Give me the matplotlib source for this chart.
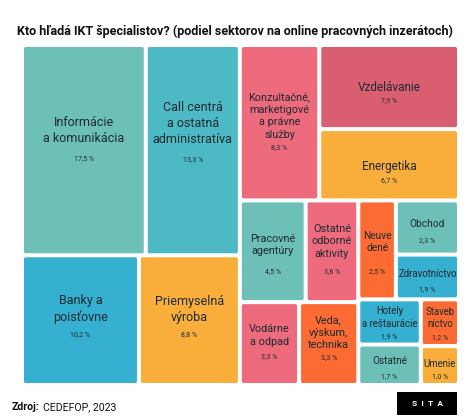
import matplotlib
matplotlib.use("Agg")
import matplotlib.pyplot as plt
from matplotlib.patches import FancyBboxPatch, Rectangle

# ---------------- data ----------------
labels = ["Informácie\na komunikácia", "Call centrá\na ostatná\nadministratíva",
          "Banky a\npoisťovne", "Priemyselná\nvýroba",
          "Konzultačné,\nmarketigové\na právne\nslužby", "Vzdelávanie", "Energetika",
          "Pracovné\nagentúry", "Ostatné\nodborné\naktivity", "Vodárne\na odpad",
          "Veda,\nvýskum,\ntechnika", "Neuve\ndené", "Obchod", "Zdravotníctvo",
          "Hotely\na reštaurácie", "Ostatné", "Staveb\nníctvo", "Umenie"]
values = [17.5, 13.3, 10.2, 8.8, 8.3, 7.9, 6.7, 4.5, 3.6, 3.3, 3.3, 2.5, 2.3, 1.9,
          1.9, 1.7, 1.2, 1.0]
value_text = ["17,5 %", "13,3 %", "10,2 %", "8,8 %", "8,3 %", "7,9 %", "6,7 %", "4,5 %",
              "3,6 %", "3,3 %", "3,3 %", "2,5 %", "2,3 %", "1,9 %", "1,9 %", "1,7 %",
              "1,2 %", "1,0 %"]

# ---------------- styles ----------------
TEAL, CYAN, BLUE, ORANGE = "#6cc0b8", "#4db9c4", "#35b0d0", "#f9ae3c"
PINK, RED, VERM = "#ee6b7e", "#d95f70", "#fc6b33"
colors = [TEAL, CYAN, BLUE, ORANGE, PINK, RED, ORANGE, TEAL, PINK, PINK, VERM, VERM,
          TEAL, BLUE, BLUE, TEAL, VERM, ORANGE]
label_size = [9, 9, 9, 9, 7.8, 8.5, 8.5, 7.8, 7.8, 7.8, 7.8, 7.3, 7.3, 6.9, 6.9, 7.2, 6.9, 6.9]
# offsets in pixels (down positive) of label centre and percentage from tile centre
label_dy = [-20, -27, -11, -11, -6.5, 0, 1.5, -6, -10, -8, -10.5, -8, -3.5, -2.5,
            -4.5, -3.5, -4.5, -1.5]
pct_dy = [9, 10, 15, 15, 24.5, 14, 15.5, 20, 20, 13, 14, 21.5, 13.5, 12.5,
          14.5, 11.5, 14.5, 11.5]

# layout tree: ('h'|'v', [children]) ; leaves are indices
tree = ('h', [
    ('v', [('h', [0, 1]), ('h', [2, 3])]),
    ('v', [
        ('h', [4, ('v', [5, 6])]),
        ('h', [
            ('v', [('h', [7, 8]), ('h', [9, 10])]),
            ('v', [('h', [11, ('v', [12, 13])]),
                   ('h', [('v', [14, 15]), ('v', [16, 17])])]),
        ]),
    ]),
])


def total(node):
    if isinstance(node, int):
        return values[node]
    return sum(total(c) for c in node[1])


rects = {}


def layout(node, x, y, w, h):
    if isinstance(node, int):
        rects[node] = (x, y, w, h)
        return
    d, kids = node
    s = total(node)
    if d == 'h':
        cx = x
        for k in kids:
            kw = w * total(k) / s
            layout(k, cx, y, kw, h)
            cx += kw
    else:  # vertical, first child on top
        cy = y + h
        for k in kids:
            kh = h * total(k) / s
            layout(k, x, cy - kh, w, kh)
            cy -= kh


layout(tree, 0, 0, 1, 1)

W, H = 474, 420
fig = plt.figure(figsize=(W / 100, H / 100), dpi=100)
plt.rcParams['font.family'] = ['Roboto', 'DejaVu Sans']

# axes covering pixels x 22..459, y 45..385 (from top)
ax_l, ax_r, ax_t, ax_b = 22, 459, 45, 385
ax = fig.add_axes([ax_l / W, 1 - ax_b / H, (ax_r - ax_l) / W, (ax_b - ax_t) / H])
ax.set_xlim(0, 1)
ax.set_ylim(0, 1)
ax.axis('off')
PH = ax_b - ax_t
gx = 2 / (ax_r - ax_l)
gy = 2 / PH

for i, (x, y, w, h) in rects.items():
    p = FancyBboxPatch((x + gx, y + gy), w - 2 * gx, h - 2 * gy,
                       boxstyle="round,pad=0,rounding_size=0.004",
                       fc=colors[i], ec="none", mutation_aspect=(ax_r - ax_l) / PH)
    ax.add_patch(p)
    cx = x + w / 2
    cy = y + h / 2
    ax.text(cx, cy - label_dy[i] / PH, labels[i], ha='center', va='center',
            fontsize=label_size[i], color='#1e2a30', linespacing=1.3)
    ax.text(cx, cy - pct_dy[i] / PH, value_text[i], ha='center', va='center',
            fontsize=5, color='#1e2a30')

fig.text(17 / W, 1 - 31 / H,
         "Kto hľadá IKT špecialistov? (podiel sektorov na online pracovných inzerátoch)",
         ha='left', va='center', fontsize=9.0, fontweight='bold', color='#111111')
z = fig.text(12 / W, 1 - 407 / H, "Zdroj:", ha='left', va='center', fontsize=7.6,
             fontweight='bold', color='#111111')
fig.canvas.draw()
bb = z.get_window_extent()
fig.text((bb.x1 + 3) / W, 1 - 407 / H, "CEDEFOP, 2023", ha='left', va='center',
         fontsize=7.6, color='#111111')

fig.patches.append(Rectangle((397 / W, 1 - 415 / H), 60 / W, 23 / H, transform=fig.transFigure,
                             fc='black', ec='none', figure=fig))
fig.text(427 / W, 1 - 403.5 / H, "S  I  T  A", ha='center', va='center', fontsize=6,
         color='white', fontweight='bold')

fig.savefig("out.png", dpi=100)
